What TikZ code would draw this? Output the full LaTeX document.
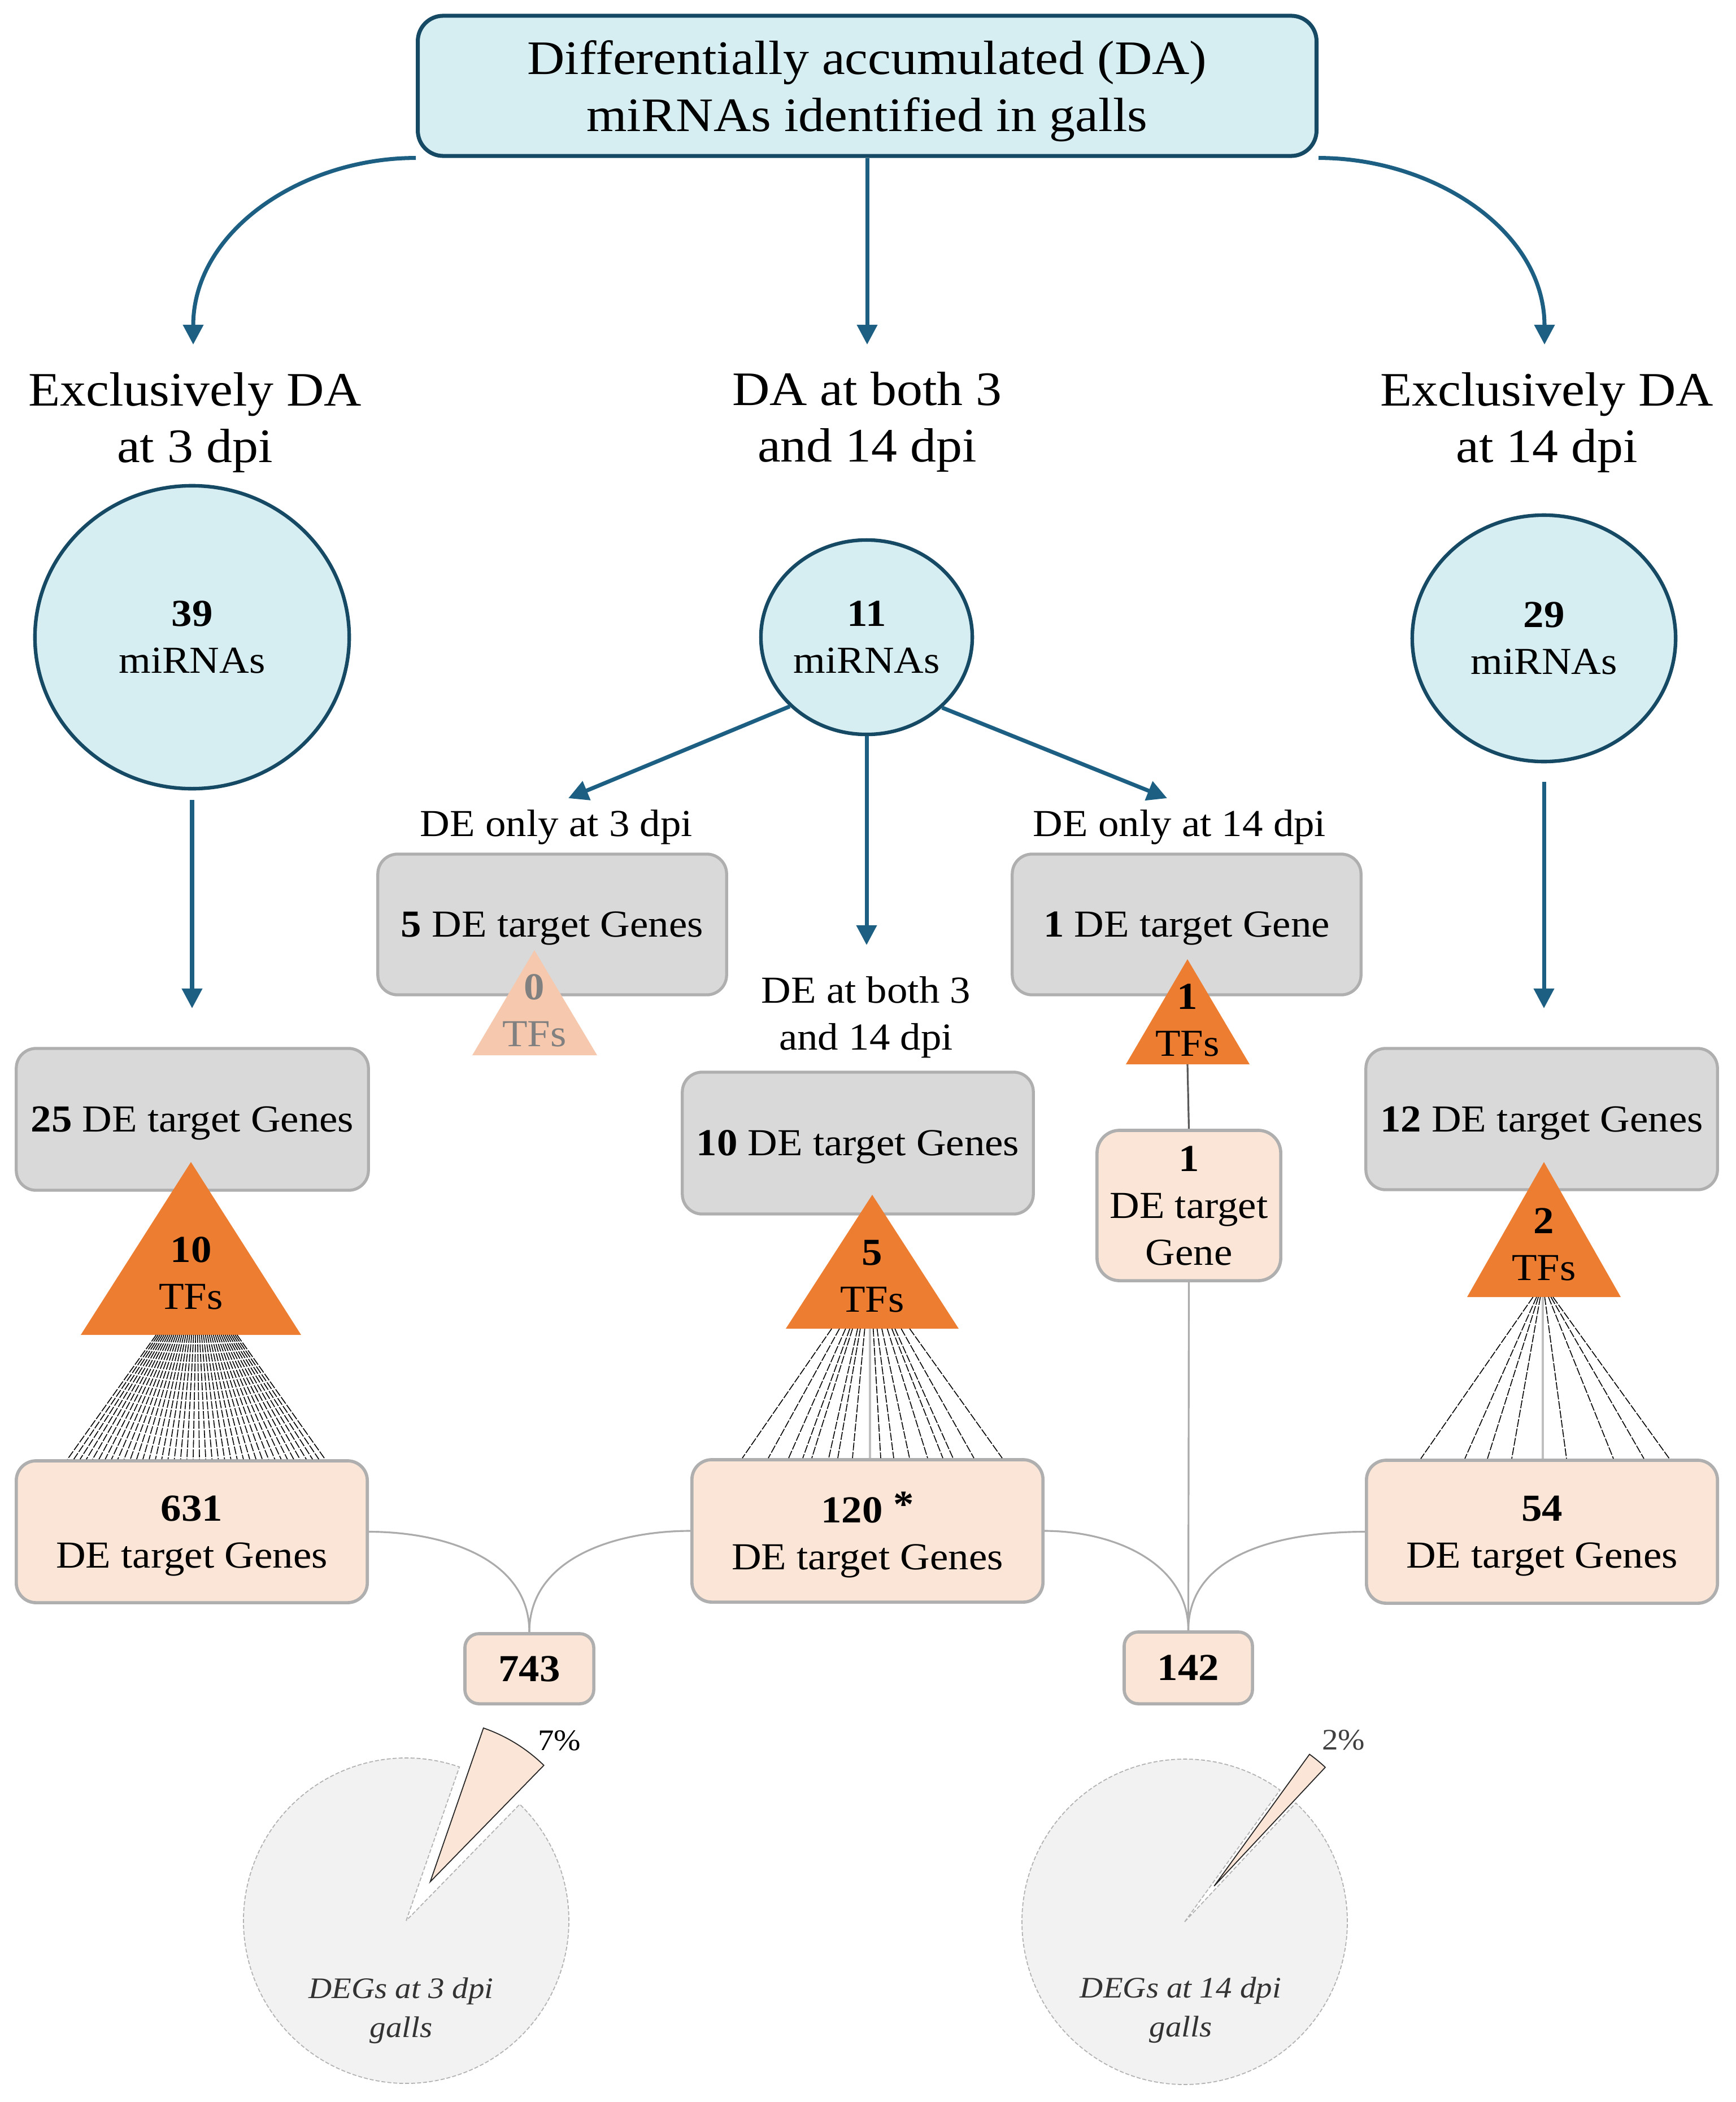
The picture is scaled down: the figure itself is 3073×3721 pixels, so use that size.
\documentclass[tikz,border=0pt]{standalone}
\usepackage{fontspec}
\setmainfont{Liberation Serif}[FakeStretch=1.08]
\usetikzlibrary{arrows.meta,calc,shapes.geometric}
\definecolor{lblue}{HTML}{D6EDF2}
\definecolor{dblue}{HTML}{164A64}
\definecolor{ablue}{HTML}{1C5F82}
\definecolor{gfill}{HTML}{D9D9D9}
\definecolor{gline}{HTML}{AFAFAF}
\definecolor{peach}{HTML}{FBE5D6}
\definecolor{orng}{HTML}{ED7D31}
\definecolor{pale}{HTML}{F6C8AD}
\definecolor{piegray}{HTML}{F2F2F2}
\definecolor{curvegray}{HTML}{ABABAB}
\tikzset{
  bigtxt/.style={font=\fontsize{24.2}{28.5}\selectfont, align=center},
  medfont/.style={font=\fontsize{19.2}{23.6}\selectfont},
  medtxt/.style={medfont, align=center},
  smalltxt/.style={font=\fontsize{15}{19.5}\selectfont\itshape, align=center, text=black!80},
  topbox/.style={draw=dblue, fill=lblue, line width=2pt, rounded corners=0.45cm, inner sep=0pt, bigtxt, text depth=0pt},
  mirna/.style={ellipse, draw=dblue, fill=lblue, line width=1.8pt, inner sep=0pt, medtxt, text depth=0pt},
  graybox/.style={rectangle, draw=gline, fill=gfill, line width=1.5pt, rounded corners=0.35cm, inner sep=0pt, medtxt, text depth=0pt},
  peachbox/.style={rectangle, draw=gline, fill=peach, line width=1.6pt, rounded corners=0.35cm, inner sep=0pt, medtxt, text depth=0pt},
  arr/.style={draw=ablue, line width=2pt, -{Triangle[length=10pt,width=10pt]}},
  fan/.style={draw=black, line width=0.45pt, dash pattern=on 4pt off 0.8pt},
  fanc/.style={draw=black!25, line width=0.9pt},
  gcurve/.style={draw=curvegray, line width=0.9pt},
  tftxt/.style={medtxt, text depth=0pt, inner sep=0pt},
  pct/.style={font=\fontsize{15}{18}\selectfont},
}
\begin{document}
\begin{tikzpicture}[x=0.01cm,y=0.01cm]
\useasboundingbox (0,0) rectangle (3073,-3721);

% top box and headers
\node[topbox, minimum width=15.9cm, minimum height=2.48cm] (top) at (1535,-152) {Differentially accumulated (DA)\\miRNAs identified in galls};
\node[bigtxt] (h1) at (345,-748) {Exclusively DA\\at 3 dpi};
\node[bigtxt] (h2) at (1535,-747) {DA at both 3\\and 14 dpi};
\node[bigtxt] (h3) at (2738,-748) {Exclusively DA\\at 14 dpi};

\coordinate (e1) at (342,-610);
\coordinate (e2) at (1535,-610);
\coordinate (e3) at (2734,-610);
\draw[arr] (top.south west) to[out=180,in=90] (e1);
\draw[arr] (top.south) -- (e2);
\draw[arr] (top.south east) to[out=0,in=90] (e3);

% miRNA circles
\node[mirna, minimum width=5.56cm, minimum height=5.36cm] (c1) at (340,-1128) {\textbf{39}\\miRNAs};
\node[mirna, minimum width=3.74cm, minimum height=3.44cm] (c2) at (1534,-1128) {\textbf{11}\\miRNAs};
\node[mirna, minimum width=4.66cm, minimum height=4.36cm] (c3) at (2733,-1130) {\textbf{29}\\miRNAs};

\coordinate (e25) at (340,-1785);
\coordinate (e12) at (2733,-1785);
\coordinate (e3l) at (1006,-1413);
\coordinate (ebo) at (1534,-1673);
\coordinate (e14l) at (2066,-1413);
\draw[arr] ([yshift=-0.17cm]c1.south) -- (e25);
\draw[arr] ([yshift=-0.33cm]c3.south) -- (e12);
\draw[arr] (c2.222) -- (e3l);
\draw[arr] (c2.south) -- (ebo);
\draw[arr] (c2.-43) -- (e14l);

% labels
\node[medfont, anchor=base] (l3) at (985,-1480) {DE only at 3 dpi};
\node[medfont, anchor=base] (l14) at (2088,-1480) {DE only at 14 dpi};
\node[medtxt] (lb) at (1533,-1801) {DE at both 3\\and 14 dpi};

% gray boxes
\node[graybox, minimum width=6.17cm, minimum height=2.49cm] (g5) at (977.5,-1636.5) {\textbf{5} DE target Genes};
\node[graybox, minimum width=6.17cm, minimum height=2.49cm] (g1) at (2100.5,-1636.5) {\textbf{1} DE target Gene};
\node[graybox, minimum width=6.21cm, minimum height=2.51cm] (g10) at (1518.5,-2023.5) {\textbf{10} DE target Genes};
\node[graybox, minimum width=6.23cm, minimum height=2.51cm] (g25) at (340.5,-1981.5) {\textbf{25} DE target Genes};
\node[graybox, minimum width=6.22cm, minimum height=2.50cm] (g12) at (2729,-1981) {\textbf{12} DE target Genes};

% triangles (TFs)
\fill[pale] (946,-1682) -- (1057,-1868) -- (836,-1868) -- cycle;
\node[tftxt, text=black!50] (t0) at (946,-1789) {\textbf{0}\\TFs};
\fill[orng] (2102,-1698) -- (2212,-1884) -- (1993,-1884) -- cycle;
\node[tftxt] (t1) at (2102,-1806) {\textbf{1}\\TFs};
\fill[orng] (338,-2057) -- (533,-2363) -- (143,-2363) -- cycle;
\node[tftxt] (t10) at (338,-2254) {\textbf{10}\\TFs};
\fill[orng] (1544,-2115) -- (1697,-2352) -- (1391,-2352) -- cycle;
\node[tftxt] (t5) at (1544,-2259) {\textbf{5}\\TFs};
\fill[orng] (2733,-2057) -- (2869,-2296) -- (2597,-2296) -- cycle;
\node[tftxt] (t2) at (2733,-2203) {\textbf{2}\\TFs};

\coordinate (t10b) at (338,-2363);
\coordinate (t5b) at (1540,-2352);
\coordinate (t2b) at (2731,-2296);
\coordinate (t1b) at (2102,-1884);

% peach boxes
\node[peachbox, minimum width=6.21cm, minimum height=2.51cm] (p631) at (339.5,-2711.5) {\textbf{631}\\DE target Genes};
\node[peachbox, minimum width=6.21cm, minimum height=2.52cm] (p120) at (1535.5,-2710) {\textbf{120}~\raisebox{0.15em}{\textbf{*}}\\DE target Genes};
\node[peachbox, minimum width=6.21cm, minimum height=2.53cm] (p54) at (2729.5,-2711.5) {\textbf{54}\\DE target Genes};
\node[peachbox, minimum width=3.25cm, minimum height=2.66cm, rounded corners=0.4cm] (p1) at (2104.5,-2134) {\textbf{1}\\DE target\\Gene};
\node[peachbox, minimum width=2.28cm, minimum height=1.24cm, rounded corners=0.25cm] (p743) at (937,-2954) {\textbf{743}};
\node[peachbox, minimum width=2.27cm, minimum height=1.27cm, rounded corners=0.25cm] (p142) at (2103.5,-2952.5) {\textbf{142}};

% fan lines
\foreach \i in {0,...,41} {
  \draw[fan] ($(t10b)+({(\i/41-0.5)*143+10},0)$) -- ($(p631.north)+({(\i/41-0.5)*456+8},0)$);
}
\foreach \e in {1314,1360,1396,1421,1437,1467,1483,1509,1559,1582,1610,1642,1669,1687,1724,1774} {
  \draw[fan] ($(t5b)+({(\e-1540)*0.3},0)$) -- ($(p120.north)+({\e-1535.5},0)$);
}
\foreach \e in {2515,2593,2633,2676,2773,2856,2910,2955} {
  \draw[fan] ($(t2b)+({(\e-2731)*0.08},0)$) -- ($(p54.north)+({\e-2729.5},0)$);
}
\draw[fanc] (t5b) -- (t5b |- p120.north);
\draw[fanc] (t2b) -- (t2b |- p54.north);
\draw[draw=black!65, line width=0.9pt] (t1b) -- (p1.north);

% gray connectors
\draw[gcurve] (p1.south) -- (p142.north);
\draw[gcurve] (p631.east) to[out=0,in=90] (p743.north);
\draw[gcurve] (p120.west) to[out=180,in=90] (p743.north);
\draw[gcurve] (p120.east) to[out=0,in=90] (p142.north);
\draw[gcurve] (p54.west) to[out=180,in=90] (p142.north);

% pie 3 dpi
\coordinate (P1) at (719,-3400);
\filldraw[fill=piegray, draw=black!30, line width=0.5pt, dash pattern=on 2pt off 1pt] (P1) -- ++(70.9:288) arc[start angle=70.9, end angle=405.7, radius=288] -- cycle;
\coordinate (S1) at ($(P1)+(58.3:81)$);
\filldraw[fill=peach, draw=black!85, line width=0.5pt] (S1) -- ++(45.7:288) arc[start angle=45.7, end angle=70.9, radius=288] -- cycle;
\node[pct] (pc7) at (990,-3081) {7\%};
\node[smalltxt] (d3) at (710,-3559) {DEGs at 3 dpi\\galls};

% pie 14 dpi
\coordinate (P2) at (2097,-3402);
\filldraw[fill=piegray, draw=black!30, line width=0.5pt, dash pattern=on 2pt off 1pt] (P2) -- ++(54.1:288) arc[start angle=54.1, end angle=406.9, radius=288] -- cycle;
\coordinate (S2) at ($(P2)+(50.5:82)$);
\filldraw[fill=peach, draw=black!85, line width=0.5pt] (S2) -- ++(46.9:288) arc[start angle=46.9, end angle=54.1, radius=288] -- cycle;
\node[pct, text=black!75] (pc2) at (2378,-3080) {2\%};
\node[smalltxt] (d14) at (2090,-3558) {DEGs at 14 dpi\\galls};
\end{tikzpicture}
\end{document}
